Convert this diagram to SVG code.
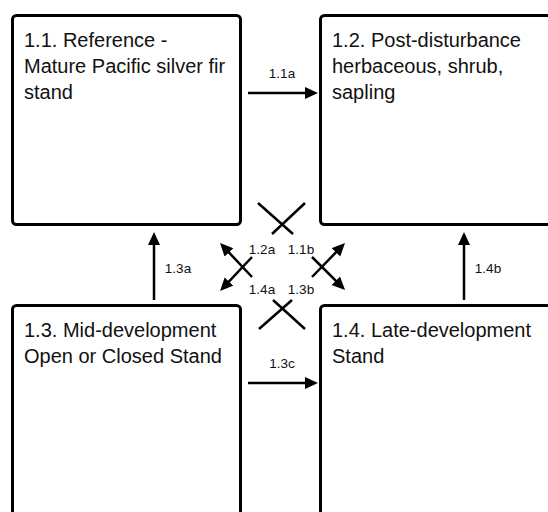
<svg xmlns="http://www.w3.org/2000/svg" width="548" height="512" viewBox="0 0 548 512">
<style>
.box{fill:#fff;stroke:#000;stroke-width:3}
.t{font-family:"Liberation Sans",Arial,sans-serif;font-size:20px;fill:#111}
.l{font-family:"Liberation Sans",Arial,sans-serif;font-size:13.5px;fill:#111;text-anchor:middle}
.c{stroke:#000;stroke-width:2.5;fill:none}
.a{stroke:#000;stroke-width:2.5;fill:none;marker-end:url(#ah)}
</style>
<defs>
<marker id="ah" markerUnits="userSpaceOnUse" markerWidth="14" markerHeight="13" refX="9" refY="6" orient="auto">
<path d="M0,0 L13,6 L0,12 z" fill="#000"/>
</marker>
</defs>
<rect width="548" height="512" fill="#fff"/>
<g id="n11">
<rect class="box" x="12.5" y="15.5" width="228" height="209" rx="4"/>
<text class="t" x="24" y="46.5">1.1. Reference -</text>
<text class="t" x="24" y="72.5">Mature Pacific silver fir</text>
<text class="t" x="24" y="98.5">stand</text>
</g>
<g id="n12">
<rect class="box" x="320.5" y="15.5" width="260" height="209" rx="4"/>
<text class="t" x="332" y="46.5">1.2. Post-disturbance</text>
<text class="t" x="332" y="72.5">herbaceous, shrub,</text>
<text class="t" x="332" y="98.5">sapling</text>
</g>
<g id="n13">
<rect class="box" x="12.5" y="305.5" width="228" height="260" rx="4"/>
<text class="t" x="24" y="336.5">1.3. Mid-development</text>
<text class="t" x="24" y="362.5">Open or Closed Stand</text>
</g>
<g id="n14">
<rect class="box" x="320.5" y="305.5" width="260" height="260" rx="4"/>
<text class="t" x="332" y="336.5">1.4. Late-development</text>
<text class="t" x="332" y="362.5">Stand</text>
</g>
<g id="connectors">
<line class="a" x1="248" y1="93" x2="314" y2="93"/>
<line class="a" x1="248" y1="383" x2="314" y2="383"/>
<line class="a" x1="154" y1="300" x2="154" y2="236"/>
<line class="a" x1="464" y1="300" x2="464" y2="236"/>
<line class="a" x1="252" y1="277" x2="222.8" y2="245.9"/>
<line class="a" x1="252" y1="257" x2="222.8" y2="288.1"/>
<line class="a" x1="312" y1="277" x2="342.2" y2="245.9"/>
<line class="a" x1="312" y1="257" x2="342.2" y2="287.1"/>
<line class="c" x1="258" y1="203" x2="293" y2="234"/>
<line class="c" x1="305" y1="203" x2="272" y2="234"/>
<line class="c" x1="273" y1="300" x2="305" y2="329"/>
<line class="c" x1="292" y1="300" x2="259" y2="329"/>
<text class="l" x="282" y="78">1.1a</text>
<text class="l" x="282" y="368">1.3c</text>
<text class="l" x="178" y="273">1.3a</text>
<text class="l" x="488" y="273">1.4b</text>
<text class="l" x="262" y="254">1.2a</text>
<text class="l" x="301" y="254">1.1b</text>
<text class="l" x="262" y="294">1.4a</text>
<text class="l" x="301" y="294">1.3b</text>
</g>
</svg>
